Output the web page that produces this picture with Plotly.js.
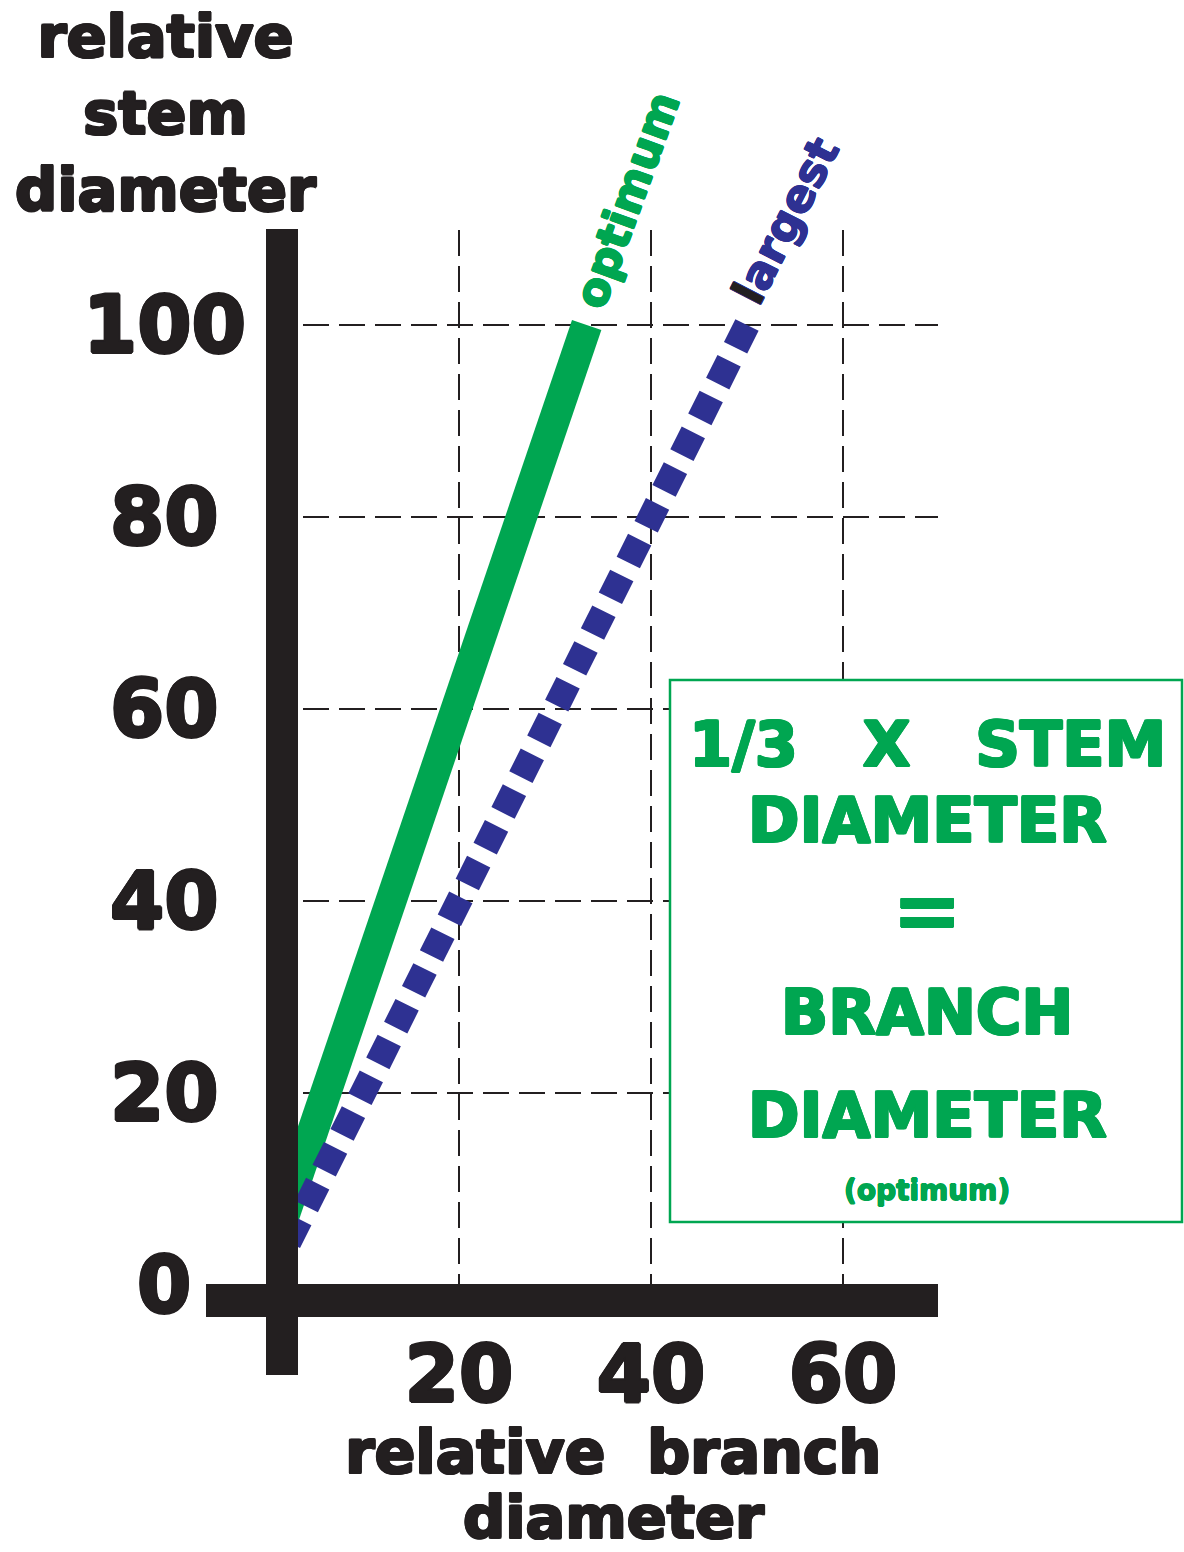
<!DOCTYPE html>
<html>
<head>
<meta charset="utf-8">
<script src="https://cdn.plot.ly/plotly-3.0.1.min.js"></script>
<style>html,body{margin:0;padding:0;background:#ffffff;}</style>
</head>
<body>
<div id="chart" style="width:1184px;height:1552px;"></div>
<script>
// ---- data ----
const optimumBranch = [33.3, 0];
const optimumStem   = [100, 2];
const largestBranch = [50, 0];
const largestStem   = [100, 0];
const xTickVals = [20, 40, 60];
const xTickText = ['20', '40', '60'];
const yTickVals = [0, 20, 40, 60, 80, 100];
const yTickText = ['0', '20', '40', '60', '80', '100'];
const yTitleText = 'relative<br>stem<br>diameter';
const xTitleLines = ['relative\u00a0\u00a0branch', 'diameter'];
const optimumLabel = 'optimum';
const largestLabel = '<span style="color:#231f20">l</span>argest';
const boxLines = ['1/3\u00a0\u00a0\u00a0X\u00a0\u00a0\u00a0STEM', 'DIAMETER', '=', 'BRANCH', 'DIAMETER', '(optimum)'];

// ---- styling / geometry ----
const GREEN = '#00a651', BLUE = '#2e3192', BLACK = '#231f20';
const FONT = 'DejaVu Sans, Arial Black, sans-serif';
const W = 1184, H = 1552;
const PL = 267, PR = 938, PT = 230, PB = 1285;   // plot area in pixels
const PW = PR - PL, PH = PB - PT;
const PX_PER_UNIT = 9.6;
const fx = p => (p - PL) / PW;
const fy = p => (PB - p) / PH;

// thicken the bold face a little so it reads like a black weight
function heavy(color, r) {
  const d = [[r,0],[-r,0],[0,r],[0,-r],[r*0.7,r*0.7],[-r*0.7,r*0.7],[r*0.7,-r*0.7],[-r*0.7,-r*0.7]];
  return d.map(p => p[0].toFixed(2) + 'px ' + p[1].toFixed(2) + 'px 0 ' + color).join(', ');
}
function font(size, color, r) {
  return {family: FONT, size: size, color: color, weight: 'bold', shadow: heavy(color, r)};
}

const boxLineY    = [744, 820, 910, 1012, 1115, 1190];
const boxLineSize = [62, 62, 84, 62, 62, 28];
const boxLineR    = [1.3, 1.3, 0.5, 1.3, 1.3, 0.6];
const xTitleY     = [1452, 1517];
const xTitleSize  = [60, 59];

const traces = [
  {x: optimumBranch, y: optimumStem, mode: 'lines', name: 'optimum',
   line: {color: GREEN, width: 31}, hoverinfo: 'skip'},
  {x: largestBranch, y: largestStem, mode: 'lines', name: 'largest',
   line: {color: BLUE, width: 26, dash: '25.5px,14.5px'}, hoverinfo: 'skip'}
];

const annotations = [];
// y tick labels, centred under one another like the reference
yTickVals.forEach((v, i) => annotations.push({
  xref: 'paper', yref: 'y', x: fx(164), y: v, text: yTickText[i],
  showarrow: false, xanchor: 'center', yanchor: 'middle',
  font: font(78, BLACK, 1.6)
}));
// axis titles
annotations.push({xref: 'paper', yref: 'paper', x: fx(165), y: fy(113), text: yTitleText,
  showarrow: false, xanchor: 'center', yanchor: 'middle',
  font: font(59, BLACK, 1.3)});
xTitleLines.forEach((t, i) => annotations.push({
  xref: 'paper', yref: 'paper', x: fx(613), y: fy(xTitleY[i]), text: t,
  showarrow: false, xanchor: 'center', yanchor: 'middle',
  font: font(xTitleSize[i], BLACK, 1.3)
}));
// series labels, placed along the continuation of each line
annotations.push({xref: 'x', yref: 'y', x: optimumBranch[0], y: optimumStem[0], text: optimumLabel,
  showarrow: false, xanchor: 'center', yanchor: 'middle', xshift: 40, yshift: 125, textangle: -70,
  font: font(45, GREEN, 1)});
annotations.push({xref: 'x', yref: 'y', x: largestBranch[0], y: largestStem[0], text: largestLabel,
  showarrow: false, xanchor: 'center', yanchor: 'middle', xshift: 38, yshift: 104, textangle: -63,
  font: font(45, BLUE, 0.7)});
// box text
boxLines.forEach((t, i) => annotations.push({
  xref: 'paper', yref: 'paper', x: fx(927), y: fy(boxLineY[i]), text: t,
  showarrow: false, xanchor: 'center', yanchor: 'middle',
  font: font(boxLineSize[i], GREEN, boxLineR[i])
}));

const shapes = [
  // green-bordered box
  {type: 'rect', xref: 'paper', yref: 'paper', x0: fx(670), x1: fx(1182), y0: fy(1222), y1: fy(680),
   fillcolor: '#ffffff', line: {color: GREEN, width: 2.5}, layer: 'above'},
  // thick axis bars
  {type: 'rect', xref: 'paper', yref: 'paper', x0: fx(266), x1: fx(298), y0: fy(1375), y1: fy(229),
   fillcolor: BLACK, line: {width: 0}, layer: 'above'},
  {type: 'rect', xref: 'paper', yref: 'paper', x0: fx(206), x1: fx(938), y0: fy(1317), y1: fy(1284),
   fillcolor: BLACK, line: {width: 0}, layer: 'above'}
];

const layout = {
  width: W, height: H, autosize: false,
  margin: {l: PL, r: W - PR, t: PT, b: H - PB, pad: 0},
  paper_bgcolor: '#ffffff', plot_bgcolor: '#ffffff',
  showlegend: false, hovermode: false,
  xaxis: {range: [0, PW / PX_PER_UNIT], tickvals: xTickVals, ticktext: xTickText,
    showgrid: true, gridcolor: BLACK, gridwidth: 2.5, griddash: '26px,10px',
    zeroline: false, showline: false, ticks: '', ticklabelstandoff: 37,
    tickfont: font(78, BLACK, 1.6), fixedrange: true},
  yaxis: {range: [0, PH / PX_PER_UNIT], tickvals: yTickVals.filter(v => v > 0),
    showgrid: true, gridcolor: BLACK, gridwidth: 2.5, griddash: '26px,10px',
    zeroline: false, showline: false, ticks: '', showticklabels: false, fixedrange: true},
  annotations: annotations,
  shapes: shapes
};

Plotly.newPlot('chart', traces, layout, {staticPlot: true, displayModeBar: false});
</script>
</body>
</html>
